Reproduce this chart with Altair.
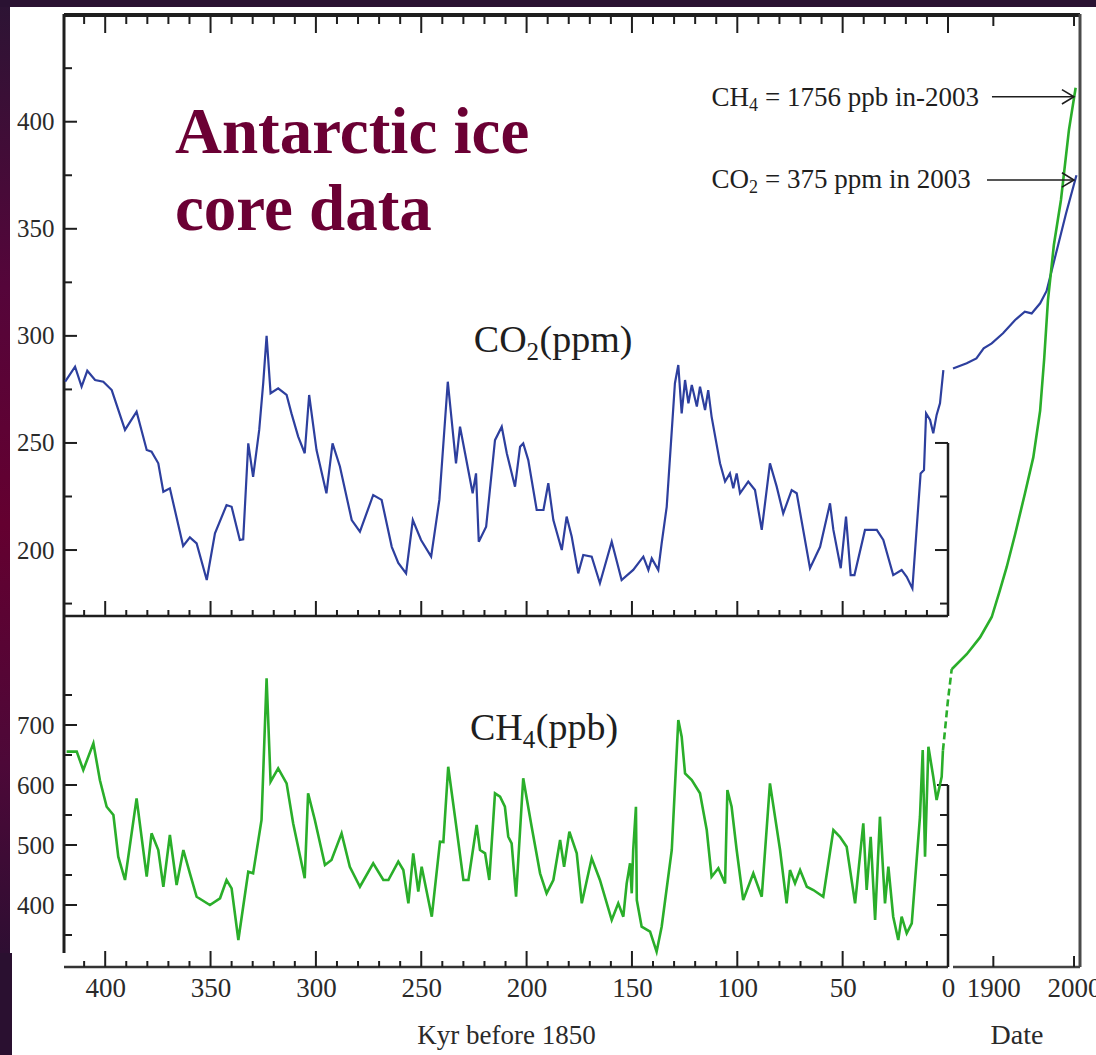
import altair as alt
import pandas as pd

# ---------------- data ----------------
co2_kyr = [419.0, 414.3, 411.2, 408.5, 404.8, 400.9, 396.9, 390.6, 385.1, 380.3,
           378.0, 374.8, 372.4, 369.3, 363.0, 359.8, 356.6, 351.8, 347.9, 342.4,
           340.0, 336.1, 334.5, 332.1, 329.8, 326.9, 325.0, 323.4, 321.5, 317.9,
           313.9, 311.6, 308.4, 305.3, 303.2, 299.7, 295.0, 292.1, 288.6, 283.0,
           279.1, 272.8, 268.8, 264.0, 260.9, 257.2, 254.0, 250.1, 245.3, 241.4,
           237.4, 233.5, 231.6, 229.2, 225.6, 224.0, 222.7, 219.2, 215.0, 211.8,
           209.4, 205.5, 203.1, 201.6, 199.2, 195.2, 192.0, 189.7, 187.3, 183.3,
           181.0, 178.6, 175.5, 173.1, 169.1, 165.2, 159.6, 154.9, 149.4, 144.6,
           142.2, 140.6, 137.5, 135.9, 133.5, 129.6, 128.0, 126.4, 124.8, 123.2,
           121.6, 119.2, 117.7, 115.3, 113.8, 112.2, 108.2, 105.8, 103.5, 101.9,
           100.3, 98.7, 94.8, 91.6, 88.4, 84.5, 81.3, 78.2, 74.2, 71.8,
           65.5, 60.7, 56.0, 54.4, 50.9, 48.4, 46.2, 44.4, 39.4, 33.8,
           30.7, 26.0, 22.0, 19.6, 16.9, 13.0, 11.4, 10.4, 8.5, 7.0,
           5.4, 3.8, 2.2]
co2_ppm = [278.6, 285.6, 276.3, 283.7, 279.4, 278.6, 274.7, 256.1, 264.6, 246.7,
           245.9, 240.5, 227.2, 228.8, 201.9, 205.9, 203.1, 186.0, 207.8, 221.0,
           220.2, 204.7, 205.0, 249.8, 234.2, 256.1, 277.9, 300.0, 273.2, 275.5,
           272.4, 263.8, 253.0, 245.2, 272.4, 246.7, 226.5, 249.8, 239.0, 214.0,
           208.6, 225.7, 223.4, 201.5, 194.0, 189.1, 214.0, 204.7, 196.9, 223.4,
           278.6, 240.5, 257.6, 245.2, 226.5, 235.8, 203.9, 210.9, 251.3, 257.6,
           245.2, 229.6, 248.2, 249.8, 242.0, 218.7, 218.7, 231.2, 214.0, 200.0,
           215.6, 206.3, 189.1, 197.7, 196.9, 184.5, 203.9, 186.0, 190.7, 196.9,
           190.7, 196.1, 190.7, 203.1, 220.2, 277.9, 286.4, 263.8, 279.4, 268.5,
           277.1, 267.0, 276.3, 265.4, 274.7, 262.3, 240.5, 232.0, 235.8, 228.8,
           235.8, 226.5, 232.0, 228.0, 209.4, 240.5, 229.6, 217.1, 228.0, 226.5,
           191.5, 201.5, 221.8, 209.4, 191.5, 215.6, 188.3, 188.3, 209.4, 209.4,
           204.7, 188.3, 190.7, 187.5, 182.1, 235.8, 237.4, 263.8, 260.7, 254.5,
           263.1, 268.5, 284.0]

ch4_kyr = [418.3, 413.5, 410.4, 405.6, 402.5, 399.3, 396.1, 393.8, 390.6, 385.1,
           380.3, 378.0, 374.8, 372.4, 369.3, 366.1, 362.9, 359.8, 356.6, 350.3,
           345.5, 342.4, 340.0, 336.8, 332.1, 329.8, 325.8, 323.4, 321.5, 317.9,
           313.9, 310.8, 305.3, 303.7, 300.5, 295.7, 292.6, 287.8, 283.9, 279.1,
           272.8, 268.0, 265.6, 260.9, 258.5, 256.1, 253.8, 251.4, 249.8, 245.0,
           241.1, 239.5, 237.2, 234.0, 230.0, 227.6, 223.7, 222.1, 219.7, 217.7,
           215.0, 212.6, 210.3, 208.7, 207.1, 205.0, 201.6, 197.6, 193.6, 190.5,
           187.3, 184.1, 182.2, 179.7, 176.2, 173.8, 169.1, 165.2, 159.6, 156.5,
           154.1, 152.5, 150.9, 150.1, 149.4, 148.1, 147.7, 145.4, 141.4, 138.3,
           135.9, 131.1, 128.0, 126.4, 124.8, 121.6, 117.7, 114.5, 112.2, 109.0,
           105.8, 104.7, 102.7, 100.3, 97.2, 92.4, 88.4, 84.5, 79.7, 76.6,
           75.0, 72.6, 70.2, 67.0, 63.9, 59.2, 54.4, 51.3, 48.1, 44.1,
           40.2, 38.6, 36.7, 34.6, 32.3, 29.9, 28.3, 26.0, 23.6, 22.0,
           19.6, 17.2, 13.3, 12.0, 10.9, 9.3, 7.0, 5.4, 3.0, 2.4]
ch4_ppb = [655.6, 655.6, 625.0, 669.5, 608.0, 563.8, 550.0, 480.5, 441.7, 577.8,
           447.2, 519.5, 491.7, 430.5, 516.7, 433.3, 491.7, 452.8, 413.8, 400.0,
           411.2, 441.7, 427.8, 341.7, 455.5, 452.8, 541.7, 777.8, 605.5, 627.8,
           602.8, 536.2, 444.5, 586.2, 541.7, 466.7, 475.0, 519.5, 463.8, 430.5,
           469.5, 441.7, 441.7, 472.2, 458.3, 402.8, 486.2, 422.2, 463.8, 380.5,
           505.5, 505.0, 630.5, 547.2, 441.7, 441.7, 533.3, 491.7, 486.2, 441.7,
           586.2, 580.6, 563.8, 513.8, 502.8, 413.8, 611.2, 530.5, 452.8, 419.5,
           441.7, 508.3, 463.8, 522.2, 486.2, 402.8, 477.8, 441.7, 375.0, 402.8,
           380.5, 436.1, 469.5, 419.5, 491.7, 563.8, 408.3, 363.8, 355.5, 322.2,
           363.8, 491.7, 708.3, 680.5, 619.5, 608.3, 586.2, 525.0, 447.2, 461.2,
           436.1, 591.7, 563.8, 491.7, 408.3, 452.8, 413.8, 602.8, 491.7, 402.8,
           458.3, 436.1, 458.3, 430.5, 425.0, 413.8, 525.0, 513.8, 497.2, 402.8,
           536.2, 425.0, 513.8, 375.0, 547.2, 402.8, 463.8, 380.5, 341.7, 380.5,
           352.8, 369.5, 547.2, 658.3, 480.5, 663.8, 613.8, 575.0, 613.8, 658.0]

co2_year = [1850, 1867, 1879, 1888, 1898, 1912, 1927, 1939, 1947.5, 1958, 1966, 1980, 1990, 2003]
co2_recent = [284.8, 287.2, 289.5, 294.2, 296.5, 301.2, 307.4, 311.3, 310.5, 315.2, 321.0, 342.0, 357.0, 375.0]
ch4_year = [1848.4, 1867, 1883.5, 1898, 1908, 1916.5, 1927, 1939, 1949.5, 1958, 1963, 1967.7,
            1975, 1983.8, 1993.7, 2002]
ch4_recent = [793, 818, 846, 880, 924, 963, 1018, 1085, 1146, 1224, 1310, 1408,
              1500, 1575, 1692, 1762]
ch4_bridge_year = [1837.6, 1843.8, 1848.4]
ch4_bridge = [658, 742, 793]

kyr_labels = [400, 350, 300, 250, 200, 150, 100, 50, 0]
kyr_minor = [410, 390, 380, 370, 360, 340, 330, 320, 310, 290, 280, 270, 260, 240, 230, 220, 210,
             190, 180, 170, 160, 140, 130, 120, 110, 90, 80, 70, 60, 40, 30, 20, 10]
year_labels = [1900, 2000]
co2_labels = [200, 250, 300, 350, 400]
co2_minor = [175, 225, 275, 325, 375, 425]
ch4_labels = [400, 500, 600, 700]
ch4_minor = [350, 450, 550, 650, 750]
co2_inner_major = [250, 200]
co2_inner_minor = [225, 175]
ch4_inner_major = [600, 500, 400]
ch4_inner_minor = [550, 450, 350]

# ---------------- styling ----------------
W, H = 1016, 953
SERIF = "Liberation Serif"
INK = "#1e1e1e"
BLUE = "#2d3f9e"
GREEN = "#2aae2a"
MAROON = "#6b0034"

KYR = alt.Scale(domain=[419.55, 0], range=[0, 884], nice=False, zero=False)
YEAR = alt.Scale(domain=[1850, 2007.4], range=[889, 1016], nice=False, zero=False)
CO2 = alt.Scale(domain=[5.3, 450.3], nice=False, zero=False)
CH4 = alt.Scale(domain=[296.7, 1885], nice=False, zero=False)

one = pd.DataFrame({"a": [0]})


def hline(x1, x2, y, w=2.5, c=INK):
    return alt.Chart(one).mark_rule(color=c, strokeWidth=w).encode(
        x=alt.value(x1), x2=alt.value(x2), y=alt.value(y))


def vline(x, y1, y2, w=2.5, c=INK):
    return alt.Chart(one).mark_rule(color=c, strokeWidth=w).encode(
        x=alt.value(x), y=alt.value(y1), y2=alt.value(y2))


def xticks(vals, scale, y1, y2, w=2):
    return alt.Chart(pd.DataFrame({"v": vals})).mark_rule(color=INK, strokeWidth=w).encode(
        x=alt.X("v:Q", scale=scale, axis=None), y=alt.value(y1), y2=alt.value(y2))


def yticks(vals, scale, x1, x2, w=2):
    return alt.Chart(pd.DataFrame({"v": vals})).mark_rule(color=INK, strokeWidth=w).encode(
        y=alt.Y("v:Q", scale=scale, axis=None), x=alt.value(x1), x2=alt.value(x2))


def label_axis(orient, values, size, pad, title=None, **kw):
    return alt.Axis(orient=orient, values=values, format="d", ticks=False, tickSize=0,
                    domain=False, grid=False, labelFont=SERIF, labelFontSize=size,
                    labelColor="#2a2a2a", labelPadding=pad, labelFlush=False,
                    labelOverlap=False, labelBound=False, title=title, **kw)


def text_at(xv, xscale, yv, yscale, txt, **kw):
    df = pd.DataFrame({"x": [xv], "y": [yv], "t": [txt]})
    return alt.Chart(df).mark_text(**kw).encode(
        x=alt.X("x:Q", scale=xscale, axis=None),
        y=alt.Y("y:Q", scale=yscale, axis=None),
        text="t:N")


layers = []

# slide background bands
grad = alt.LinearGradient(gradient="linear", x1=0, x2=0, y1=0, y2=1,
                          stops=[alt.GradientStop(color="#2c1434", offset=0),
                                 alt.GradientStop(color="#55053a", offset=0.3),
                                 alt.GradientStop(color="#640030", offset=0.55),
                                 alt.GradientStop(color="#4d0838", offset=0.8),
                                 alt.GradientStop(color="#2e0e32", offset=1)])
layers.append(alt.Chart(one).mark_rect(color=grad).encode(
    x=alt.value(-64), x2=alt.value(-54), y=alt.value(-14), y2=alt.value(939)))
layers.append(alt.Chart(one).mark_rect(color="#2a1030").encode(
    x=alt.value(-64), x2=alt.value(-52), y=alt.value(939), y2=alt.value(1041)))
layers.append(alt.Chart(one).mark_rect(color="#2a1232").encode(
    x=alt.value(-64), x2=alt.value(1032), y=alt.value(-14), y2=alt.value(-7)))

# frame
layers += [
    hline(0, 1016, 1, w=4),
    vline(0, 0, 939, w=3),
    vline(1016, 0, 953, w=3, c="#4a4a4a"),
    hline(0, 884, 602, w=2.5),
    hline(0, 884, 953, w=2.5, c="#333"),
    hline(889, 1016, 953, w=2.5, c="#444"),
]
layers.append(alt.Chart(pd.DataFrame({"top": [250], "bot": [169.2]})).mark_rule(
    color=INK, strokeWidth=2.5).encode(
    x=alt.value(884), y=alt.Y("top:Q", scale=CO2, axis=None), y2="bot:Q"))
layers.append(alt.Chart(pd.DataFrame({"top": [600], "bot": [296.7]})).mark_rule(
    color=INK, strokeWidth=2.5).encode(
    x=alt.value(884), y=alt.Y("top:Q", scale=CH4, axis=None), y2="bot:Q"))

# ticks
layers += [
    xticks(kyr_labels, KYR, 1, 19), xticks(kyr_minor, KYR, 1, 10),
    xticks(year_labels, YEAR, 1, 12),
    xticks(kyr_labels, KYR, 587, 602), xticks(kyr_minor, KYR, 596, 602),
    xticks(kyr_labels, KYR, 937, 953), xticks(kyr_minor, KYR, 947, 953),
    xticks(year_labels, YEAR, 942, 953),
    yticks(co2_labels, CO2, 0, 13), yticks(co2_minor, CO2, 0, 8),
    yticks(ch4_labels, CH4, 0, 13), yticks(ch4_minor, CH4, 0, 8),
    yticks(co2_inner_major, CO2, 871, 884), yticks(co2_inner_minor, CO2, 876, 884),
    yticks(ch4_inner_major, CH4, 873, 884), yticks(ch4_inner_minor, CH4, 876, 884),
]

# data lines
df_co2 = pd.DataFrame({"kyr": co2_kyr, "v": co2_ppm, "i": range(len(co2_kyr))})
df_ch4 = pd.DataFrame({"kyr": ch4_kyr, "v": ch4_ppb, "i": range(len(ch4_kyr))})
df_co2r = pd.DataFrame({"yr": co2_year, "v": co2_recent})
df_ch4r = pd.DataFrame({"yr": ch4_year, "v": ch4_recent})
df_ch4b = pd.DataFrame({"yr": ch4_bridge_year, "v": ch4_bridge})

layers.append(alt.Chart(df_co2).mark_line(color=BLUE, strokeWidth=2.2).encode(
    x=alt.X("kyr:Q", scale=KYR, axis=None),
    y=alt.Y("v:Q", scale=CO2, axis=label_axis("left", co2_labels, 25, 10)),
    order="i:Q"))
layers.append(alt.Chart(df_ch4).mark_line(color=GREEN, strokeWidth=2.6).encode(
    x=alt.X("kyr:Q", scale=KYR,
            axis=label_axis("bottom", kyr_labels, 27, 8, title="Kyr before 1850",
                            titleFont=SERIF, titleFontSize=27, titleFontWeight="normal",
                            titleColor="#2a2a2a", titleBaseline="alphabetic", titleY=76)),
    y=alt.Y("v:Q", scale=CH4, axis=label_axis("left", ch4_labels, 25, 10)),
    order="i:Q"))
layers.append(alt.Chart(df_co2r).mark_line(color=BLUE, strokeWidth=2.2).encode(
    x=alt.X("yr:Q", scale=YEAR, axis=None),
    y=alt.Y("v:Q", scale=CO2, axis=None)))
layers.append(alt.Chart(df_ch4r).mark_line(color=GREEN, strokeWidth=2.6).encode(
    x=alt.X("yr:Q", scale=YEAR,
            axis=label_axis("bottom", year_labels, 27, 8, title="Date",
                            titleFont=SERIF, titleFontSize=28, titleFontWeight="normal",
                            titleColor="#2a2a2a", titleBaseline="alphabetic", titleY=76)),
    y=alt.Y("v:Q", scale=CH4, axis=None)))
layers.append(alt.Chart(df_ch4b).mark_line(color=GREEN, strokeWidth=2.6, strokeDash=[7, 4]).encode(
    x=alt.X("yr:Q", scale=YEAR, axis=None),
    y=alt.Y("v:Q", scale=CH4, axis=None)))

# title text
title_df = pd.DataFrame({"x": [366.9, 366.9], "y": [385.4, 349.4],
                         "t": ["Antarctic ice", "core data"]})
layers.append(alt.Chart(title_df).mark_text(
    align="left", baseline="alphabetic", font=SERIF, fontWeight="bold",
    fontSize=65, color=MAROON).encode(
    x=alt.X("x:Q", scale=KYR, axis=None),
    y=alt.Y("y:Q", scale=CO2, axis=None), text="t:N"))

# panel labels
lab = dict(font=SERIF, baseline="alphabetic", color=INK)
layers += [
    text_at(200.0, KYR, 292.5, CO2, "CO", align="right", fontSize=38, **lab),
    text_at(200.0, KYR, 292.5, CO2, "2", align="left", fontSize=25, dy=8, **lab),
    text_at(200.0, KYR, 292.5, CO2, "(ppm)", align="left", fontSize=38, dx=13, **lab),
    text_at(201.8, KYR, 675.0, CH4, "CH", align="right", fontSize=38, **lab),
    text_at(201.8, KYR, 675.0, CH4, "4", align="left", fontSize=25, dy=8, **lab),
    text_at(201.8, KYR, 675.0, CH4, "(ppb)", align="left", fontSize=38, dx=13, **lab),
]

# annotations
layers += [
    text_at(94.4, KYR, 407.3, CO2, "CH", align="right", fontSize=27, **lab),
    text_at(94.4, KYR, 407.3, CO2, "4", align="left", fontSize=18, dy=5, **lab),
    text_at(94.4, KYR, 407.3, CO2, "= 1756 ppb in-2003", align="left", fontSize=27, dx=16, **lab),
    text_at(94.4, KYR, 369.05, CO2, "CO", align="right", fontSize=27, **lab),
    text_at(94.4, KYR, 369.05, CO2, "2", align="left", fontSize=18, dy=5, **lab),
    text_at(94.4, KYR, 369.05, CO2, "= 375 ppm in 2003", align="left", fontSize=27, dx=16, **lab),
]

ARROW = "M-2,-1.2L0,0L-2,1.2"
arr_ch4 = pd.DataFrame({"x1": [1898.3], "x2": [1999.9], "y": [1747.0]})
arr_co2 = pd.DataFrame({"x1": [1892.1], "x2": [1999.9], "y": [372.8]})
for df, sc in ((arr_ch4, CH4), (arr_co2, CO2)):
    layers.append(alt.Chart(df).mark_rule(color=INK, strokeWidth=1.5).encode(
        x=alt.X("x1:Q", scale=YEAR, axis=None), x2="x2:Q",
        y=alt.Y("y:Q", scale=sc, axis=None)))
    layers.append(alt.Chart(df).mark_point(shape=ARROW, filled=False, size=144,
                                           strokeWidth=1.6, color=INK, opacity=1).encode(
        x=alt.X("x2:Q", scale=YEAR, axis=None),
        y=alt.Y("y:Q", scale=sc, axis=None)))

chart = alt.layer(*layers).resolve_scale(x="independent", y="independent").properties(
    width=W, height=H,
    padding={"left": 64, "top": 14, "right": 16, "bottom": 88},
    autosize=alt.AutoSizeParams(type="none"),
    background="white",
).configure_view(stroke=None)

chart.save("out.html", embed_options={"renderer": "svg", "actions": False})
